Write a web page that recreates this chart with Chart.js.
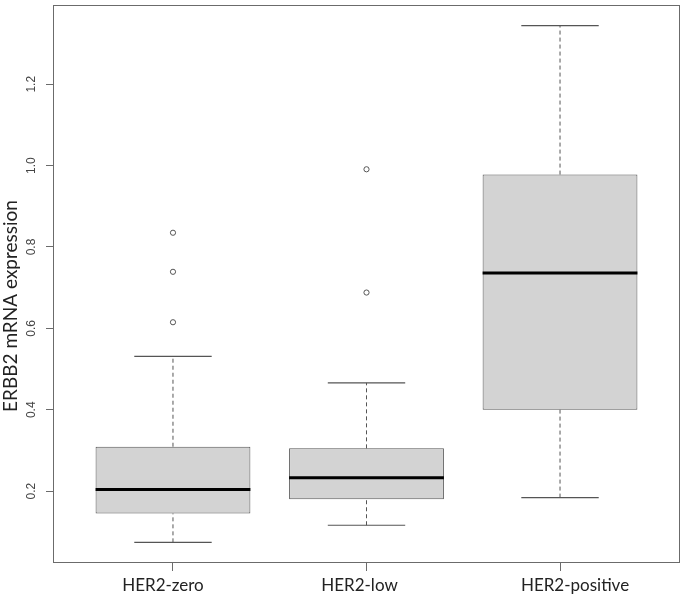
<!DOCTYPE html>
<html>
<head>
<meta charset="utf-8">
<script src="https://cdn.jsdelivr.net/npm/chart.js@4.4.0/dist/chart.umd.min.js"></script>
<style>
  html, body { margin: 0; padding: 0; background: #fff; }
  #wrap { width: 685px; height: 597px; }
</style>
</head>
<body>
<div id="wrap"><canvas id="chart"></canvas></div>
<script>
// box plot summary per group
const groups = ["HER2-zero", "HER2-low", "HER2-positive"];
const whiskerLow = [0.074, 0.116, 0.184];
const q1 = [0.145, 0.180, 0.400];
const medians = [0.204, 0.233, 0.736];
const q3 = [0.309, 0.305, 0.978];
const whiskerHigh = [0.531, 0.466, 1.344];
const outliers = [[0.615, 0.739, 0.835], [0.688, 0.991], []];
const yTicks = [0.2, 0.4, 0.6, 0.8, 1.0, 1.2];

// R style axis limits: data range + 4% each side
const allVals = whiskerLow.concat(whiskerHigh, outliers.flat());
const dMin = Math.min(...allVals), dMax = Math.max(...allVals);
const pad = (dMax - dMin) * 0.04;

const lineCol = "#555555";

// helper to build broken line segments
function segments(fn) {
  const pts = [];
  groups.forEach((g, i) => {
    fn(i + 1, i).forEach(seg => {
      pts.push(seg[0], seg[1], { x: seg[1].x, y: null });
    });
  });
  return pts;
}

const medianPts = segments((c, i) => [[{ x: c - 0.4, y: medians[i] }, { x: c + 0.4, y: medians[i] }]]);
const dashPts = segments((c, i) => [
  [{ x: c, y: q3[i] }, { x: c, y: whiskerHigh[i] }],
  [{ x: c, y: whiskerLow[i] }, { x: c, y: q1[i] }]
]);
const capPts = segments((c, i) => [
  [{ x: c - 0.2, y: whiskerHigh[i] }, { x: c + 0.2, y: whiskerHigh[i] }],
  [{ x: c - 0.2, y: whiskerLow[i] }, { x: c + 0.2, y: whiskerLow[i] }]
]);
const outlierPts = [];
outliers.forEach((arr, i) => arr.forEach(v => outlierPts.push({ x: i + 1, y: v })));

// x label nudges (labels in the source are not exactly under the ticks)
const labelNudge = [-10, -7, 15];

const textPlugin = {
  id: "rtext",
  afterDraw(chart) {
    const ctx = chart.ctx;
    const area = chart.chartArea;
    const xs = chart.scales.x, ys = chart.scales.y;
    ctx.save();
    // frame
    ctx.strokeStyle = "#6b6b6b";
    ctx.lineWidth = 1;
    ctx.strokeRect(area.left + 0.5, area.top + 0.5, area.right - area.left - 1, area.bottom - area.top - 1);
    // y tick labels, rotated like R
    ctx.fillStyle = "#444";
    ctx.font = "12px 'Liberation Sans', Arial, sans-serif";
    ctx.textAlign = "center";
    ctx.textBaseline = "middle";
    yTicks.forEach(v => {
      ctx.save();
      ctx.translate(area.left - 21, ys.getPixelForValue(v));
      ctx.rotate(-Math.PI / 2);
      ctx.fillText(v.toFixed(1), 0, 0);
      ctx.restore();
    });
    // y title
    ctx.fillStyle = "#222";
    ctx.font = "19px Lato, 'Open Sans', sans-serif";
    ctx.save();
    ctx.translate(11, (area.top + area.bottom) / 2 + 22);
    ctx.rotate(-Math.PI / 2);
    ctx.fillText("ERBB2 mRNA expression", 0, 0);
    ctx.restore();
    // x labels
    ctx.font = "17px Lato, 'Open Sans', sans-serif";
    groups.forEach((g, i) => {
      ctx.fillText(g, xs.getPixelForValue(i + 1) + labelNudge[i], area.bottom + 23);
    });
    ctx.restore();
  }
};

const ctx = document.getElementById("chart").getContext("2d");
new Chart(ctx, {
  type: "bar",
  data: {
    datasets: [
      {
        type: "line",
        data: medianPts,
        borderColor: "#000",
        borderWidth: 3,
        pointRadius: 0,
        spanGaps: false,
        order: 1
      },
      {
        type: "line",
        data: outlierPts,
        showLine: false,
        pointStyle: "circle",
        pointRadius: 2.6,
        pointBorderWidth: 1,
        pointBorderColor: lineCol,
        pointBackgroundColor: "rgba(0,0,0,0)",
        order: 1
      },
      {
        type: "line",
        data: dashPts,
        borderColor: lineCol,
        borderWidth: 1,
        borderDash: [4, 3],
        pointRadius: 0,
        spanGaps: false,
        order: 2
      },
      {
        type: "line",
        data: capPts,
        borderColor: lineCol,
        borderWidth: 1.2,
        pointRadius: 0,
        spanGaps: false,
        order: 2
      },
      {
        type: "bar",
        data: groups.map((g, i) => ({ x: i + 1, y: [q1[i], q3[i]] })),
        backgroundColor: "#d3d3d3",
        borderColor: lineCol,
        borderWidth: 1,
        borderSkipped: false,
        categoryPercentage: 1,
        barPercentage: 0.8,
        order: 3
      }
    ]
  },
  options: {
    responsive: true,
    maintainAspectRatio: false,
    animation: false,
    layout: { padding: { top: 2, right: 3, left: 0, bottom: 0 } },
    plugins: {
      legend: { display: false },
      tooltip: { enabled: false }
    },
    scales: {
      x: {
        type: "linear",
        min: 0.38,
        max: 3.62,
        offset: false,
        afterBuildTicks: s => { s.ticks = [1, 2, 3].map(v => ({ value: v })); },
        afterFit: s => { s.height = 34; },
        ticks: { display: false },
        grid: { offset: false, drawOnChartArea: false, drawTicks: true, tickLength: 8, color: "#6b6b6b" },
        border: { display: false }
      },
      y: {
        type: "linear",
        min: dMin - pad,
        max: dMax + pad,
        afterBuildTicks: s => { s.ticks = yTicks.map(v => ({ value: v })); },
        afterFit: s => { s.width = 53; },
        ticks: { display: false },
        grid: { drawOnChartArea: false, drawTicks: true, tickLength: 7, color: "#6b6b6b" },
        border: { display: false }
      }
    }
  },
  plugins: [textPlugin]
});
</script>
</body>
</html>
